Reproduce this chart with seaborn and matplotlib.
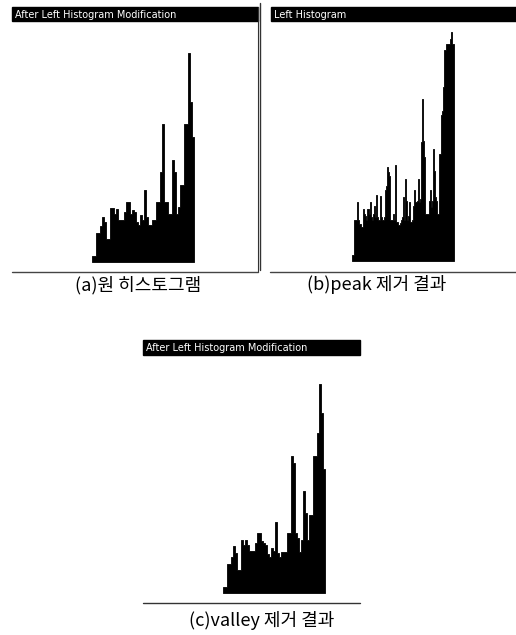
import numpy as np
import matplotlib
matplotlib.use("Agg")
import matplotlib.pyplot as plt
from matplotlib.patches import Rectangle
import seaborn as sns

W, H = 516, 635

# bin heights (arbitrary count units)
hist_a = [6, 6, 29, 29, 36, 45, 40, 23, 23, 54,
          54, 48, 53, 42, 42, 42, 50, 60, 60, 48,
          52, 50, 40, 37, 47, 42, 72, 45, 37, 37,
          42, 42, 60, 60, 90, 138, 60, 60, 48, 48,
          102, 90, 48, 55, 77, 77, 138, 138, 209, 160,
          125]

hist_b = [6, 6, 41, 41, 41, 59, 41, 37, 37, 34,
          34, 52, 47, 45, 41, 52, 52, 47, 59, 44,
          41, 47, 55, 44, 66, 44, 41, 41, 65, 44,
          41, 41, 44, 71, 75, 94, 89, 85, 41, 41,
          41, 47, 41, 96, 39, 39, 36, 36, 38, 41,
          44, 64, 41, 82, 60, 41, 45, 59, 39, 39,
          41, 55, 71, 59, 59, 60, 82, 59, 62, 119,
          162, 120, 104, 47, 47, 47, 47, 60, 71, 54,
          60, 112, 90, 64, 60, 47, 47, 107, 107, 146,
          150, 174, 211, 211, 217, 217, 217, 217, 222, 229,
          217, 217]

hist_c = [6, 6, 29, 29, 36, 47, 40, 23, 23, 53,
          48, 53, 48, 42, 42, 42, 50, 60, 60, 52,
          50, 48, 39, 36, 45, 42, 71, 40, 36, 41,
          41, 41, 60, 60, 137, 130, 60, 55, 41, 53,
          102, 80, 53, 78, 78, 137, 137, 160, 209, 180,
          124]

titles = ["After Left Histogram Modification", "Left Histogram",
          "After Left Histogram Modification"]
captions = ["(a)원 히스토그램", "(b)peak 제거 결과", "(c)valley 제거 결과"]

sns.set_style("white")
plt.rcParams['font.family'] = ['Noto Sans CJK KR', 'DejaVu Sans']

fig = plt.figure(figsize=(W / 100, H / 100), dpi=100)


def px_axes(x0, y0, x1, y1):
    # box given in image pixels, origin top-left
    return fig.add_axes([x0 / W, 1 - y1 / H, (x1 - x0) / W, (y1 - y0) / H])


# window frames, title bars and captions
frame = fig.add_axes([0, 0, 1, 1])
frame.set_xlim(0, W)
frame.set_ylim(H, 0)
frame.axis("off")

bars = [(12, 7, 246, 14), (271, 7, 245, 14), (143, 340, 217, 15)]
for (bx, by, bw, bh), t in zip(bars, titles):
    frame.add_patch(Rectangle((bx, by), bw, bh, color="black"))
    frame.text(bx + 3, by + bh / 2 + 0.5, t, color="white", fontsize=7,
               family="DejaVu Sans", va="center", ha="left")

frame.plot([258, 258], [7, 272], color="#333333", lw=0.8)
frame.plot([12, 258], [272, 272], color="#444444", lw=1.0)
frame.plot([260, 260], [3, 270], color="#333333", lw=1.0)
frame.plot([270, 516], [272, 272], color="#444444", lw=1.0)
frame.plot([143, 360], [603, 603], color="#333333", lw=1.0)

cap_pos = [(138, 285), (377, 285), (262, 620)]
for (cx, cy), c in zip(cap_pos, captions):
    frame.text(cx, cy, c, fontsize=13, ha="center", va="center", color="black")

# histograms
boxes = [(92, 194, 262), (352, 454, 261), (223, 325, 593)]
for (x0, x1, base), vals in zip(boxes, [hist_a, hist_b, hist_c]):
    top = base - max(vals)
    ax = px_axes(x0, top, x1, base)
    sns.histplot(x=np.arange(len(vals)), weights=vals, discrete=True,
                 element="step", fill=True, color="black", alpha=1,
                 linewidth=0.6, ax=ax)
    ax.set_xlim(-0.5, len(vals) - 0.5)
    ax.set_ylim(0, max(vals))
    ax.axis("off")

fig.savefig("out.png", dpi=100)
